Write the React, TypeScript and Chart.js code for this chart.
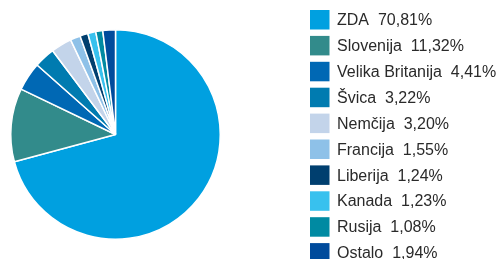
import React, { useEffect, useRef } from "react";
import { Chart, registerables } from "chart.js";

Chart.register(...registerables);

const categories = ["ZDA", "Slovenija", "Velika Britanija", "Švica", "Nemčija", "Francija", "Liberija", "Kanada", "Rusija", "Ostalo"];
const shares = [70.81, 11.32, 4.41, 3.22, 3.2, 1.55, 1.24, 1.23, 1.08, 1.94];
const colors = ["#00a0e0", "#328b8b", "#0068b4", "#007bb0", "#c3d4ea", "#8ec1e8", "#003f6f", "#38c1ee", "#008aa2", "#004b9c"];

const fmt = (v: number) => v.toFixed(2).replace(".", ",") + "%";

const legendPlugin = {
  id: "sideLegend",
  afterDraw(chart: any) {
    const ctx = chart.ctx;
    const labels = chart.data.labels as string[];
    const ds = chart.data.datasets[0];
    const x0 = 310;
    const y0 = 10;
    const step = 25.9;
    const box = 19.5;
    ctx.save();
    ctx.font = "16px 'Liberation Sans', Arial, sans-serif";
    ctx.textBaseline = "middle";
    ctx.textAlign = "left";
    labels.forEach((lab, i) => {
      const y = y0 + i * step;
      ctx.fillStyle = (ds.backgroundColor as string[])[i];
      ctx.fillRect(x0, y, box, box);
      ctx.fillStyle = "#2a2a2a";
      ctx.fillText(lab + "  " + fmt((ds.data as number[])[i]), 337, y + box / 2 + 1);
    });
    ctx.restore();
  },
};

export default function App() {
  const ref = useRef<HTMLCanvasElement | null>(null);
  useEffect(() => {
    if (!ref.current) return;
    const chart = new Chart(ref.current, {
      type: "pie",
      data: {
        labels: categories,
        datasets: [
          {
            data: shares,
            backgroundColor: colors,
            borderColor: "#ffffff",
            borderWidth: 1.5,
          },
        ],
      },
      options: {
        responsive: false,
        animation: false,
        layout: { padding: { left: 10, right: 279, top: 29, bottom: 19 } },
        plugins: { legend: { display: false }, tooltip: { enabled: false } },
      },
      plugins: [legendPlugin],
    });
    return () => chart.destroy();
  }, []);
  return (
    <div style={{ position: "fixed", left: 0, top: 0, width: 500, height: 259, background: "#fff" }}>
      <canvas ref={ref} width={500} height={259} style={{ display: "block", width: 500, height: 259 }} />
    </div>
  );
}
